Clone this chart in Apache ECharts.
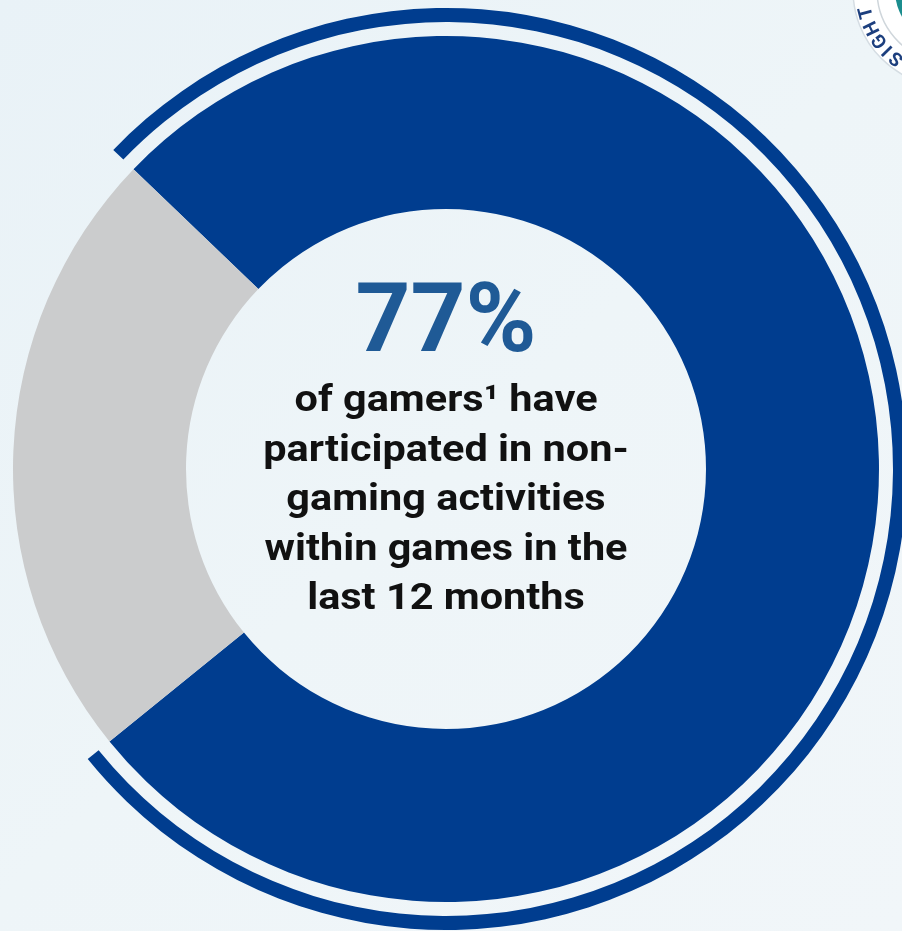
<!DOCTYPE html>
<html>
<head>
<meta charset="utf-8">
<script src="https://cdn.jsdelivr.net/npm/echarts@6/dist/echarts.min.js"></script>
<style>
html,body{margin:0;padding:0;background:#eaf2f7;}
#chart{width:902px;height:931px;}
</style>
</head>
<body>
<div id="chart"></div>
<script>
// ---- data ----
var categories = ['Participated in non-gaming activities', 'Did not participate'];
var values = [77, 23];
var headline = '77%';
var bodyLines = [
  'of gamers\u00B9 have',
  'participated in non-',
  'gaming activities',
  'within games in the',
  'last 12 months'
];
var badgeLetters = ['S', 'I', 'G', 'H', 'T'];

// ---- chart ----
var chart = echarts.init(document.getElementById('chart'), null, {renderer: 'canvas'});
var blue = '#003d8f';
var grey = '#cbcccd';

var mainData = categories.map(function (c, i) {
  return {name: c, value: values[i], itemStyle: {color: i === 0 ? blue : grey}};
});
var ringData = categories.map(function (c, i) {
  return {name: c, value: values[i], itemStyle: {color: i === 0 ? blue : 'rgba(0,0,0,0)'}};
});

var cx = 446, cy = 469;
var graphics = [];

graphics.push({
  type: 'text', z: 10,
  style: {
    text: headline, x: cx, y: 327,
    font: 'bold 96px Roboto',
    fill: '#1f5a96', align: 'center', verticalAlign: 'middle',
    textAlign: 'center', textVerticalAlign: 'middle'
  }
});
bodyLines.forEach(function (t, i) {
  graphics.push({
    type: 'text', z: 10,
    x: cx, y: 402 + i * 49.5,
    scaleX: 1.12,
    style: {
      text: t, x: 0, y: 0,
      font: 'bold 37px Roboto',
      fill: '#111111', align: 'center', verticalAlign: 'middle',
      textAlign: 'center', textVerticalAlign: 'middle'
    }
  });
});

// corner badge (partially visible)
var bx = 950, by = -10;
graphics.push({type: 'circle', z: 5, shape: {cx: bx, cy: by, r: 97}, style: {fill: '#ffffff', stroke: '#d5dde3', lineWidth: 1.5}});
graphics.push({type: 'circle', z: 6, shape: {cx: bx, cy: by, r: 73}, style: {fill: 'none', stroke: '#cfd6db', lineWidth: 1.5}});
graphics.push({type: 'circle', z: 7, shape: {cx: bx, cy: by, r: 55}, style: {fill: '#1b8d8e'}});
var angles = [128, 136, 144, 154, 165];
badgeLetters.forEach(function (l, i) {
  var th = angles[i] * Math.PI / 180;
  var r = 86;
  graphics.push({
    type: 'text', z: 8,
    x: bx + r * Math.cos(th), y: by + r * Math.sin(th),
    rotation: -(angles[i] + 90) * Math.PI / 180,
    style: {
      text: l, x: 0, y: 0, font: 'bold 19px Roboto', fill: '#1d3f7e',
      align: 'center', verticalAlign: 'middle', textAlign: 'center', textVerticalAlign: 'middle'
    }
  });
});

chart.setOption({
  backgroundColor: {
    type: 'linear', x: 0, y: 0, x2: 1, y2: 1,
    colorStops: [
      {offset: 0, color: '#e9f2f7'},
      {offset: 0.5, color: '#eef5f8'},
      {offset: 1, color: '#f1f6f9'}
    ]
  },
  animation: false,
  series: [
    {
      type: 'pie', name: 'share',
      center: [cx, cy], radius: [260, 433],
      startAngle: 136.2, clockwise: true,
      silent: true, avoidLabelOverlap: false,
      label: {show: false}, labelLine: {show: false},
      emphasis: {disabled: true},
      data: mainData
    },
    {
      type: 'pie', name: 'ring',
      center: [cx, cy], radius: [447, 461],
      startAngle: 136.2, clockwise: true,
      silent: true, avoidLabelOverlap: false,
      label: {show: false}, labelLine: {show: false},
      emphasis: {disabled: true},
      data: ringData
    }
  ],
  graphic: graphics
});
</script>
</body>
</html>
